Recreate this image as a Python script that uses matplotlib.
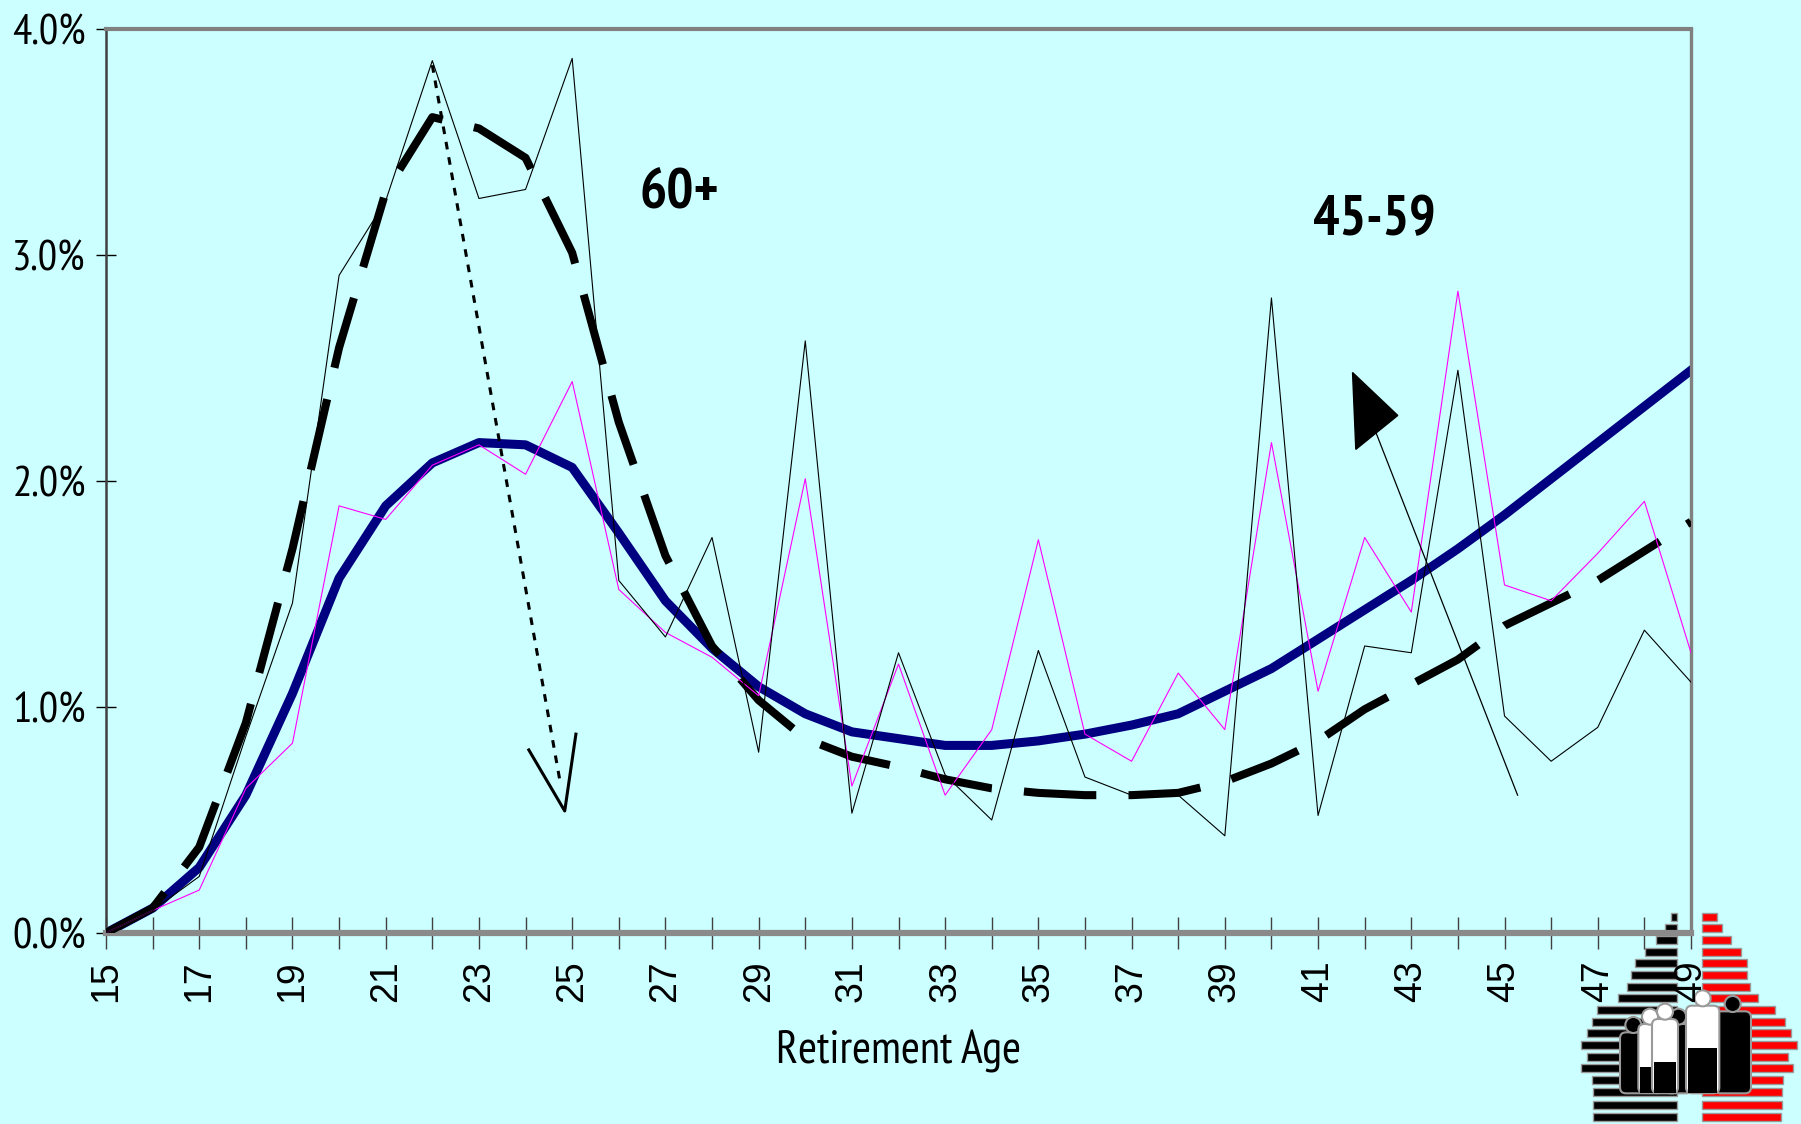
import matplotlib
matplotlib.use("Agg")
import matplotlib.pyplot as plt
import matplotlib.patches as patches
from matplotlib import font_manager
from matplotlib.ticker import FuncFormatter

# retirement age profile, % of retirees at each age
ages = list(range(15, 50))
fit_45_59 = [0.00, 0.11, 0.29, 0.61, 1.06, 1.57, 1.89, 2.08, 2.17, 2.16,
             2.06, 1.77, 1.47, 1.26, 1.09, 0.97, 0.89, 0.86, 0.83, 0.83,
             0.85, 0.88, 0.92, 0.97, 1.07, 1.17, 1.30, 1.43, 1.56, 1.70,
             1.85, 2.01, 2.17, 2.33, 2.49]
fit_60 = [0.00, 0.11, 0.38, 0.93, 1.70, 2.59, 3.28, 3.61, 3.56, 3.43,
          3.01, 2.26, 1.67, 1.27, 1.03, 0.86, 0.78, 0.735, 0.68, 0.64,
          0.62, 0.61, 0.61, 0.62, 0.67, 0.75, 0.85, 0.99, 1.10, 1.21,
          1.36, 1.46, 1.56, 1.69, 1.82]
raw_60 = [0.00, 0.10, 0.25, 0.87, 1.46, 2.91, 3.24, 3.86, 3.25, 3.29,
          3.87, 1.56, 1.31, 1.75, 0.80, 2.62, 0.53, 1.24, 0.70, 0.50,
          1.25, 0.69, 0.61, 0.61, 0.43, 2.81, 0.52, 1.27, 1.24, 2.49,
          0.96, 0.76, 0.91, 1.34, 1.11]
raw_45_59 = [0.00, 0.10, 0.19, 0.64, 0.84, 1.89, 1.83, 2.07, 2.16, 2.03,
             2.44, 1.52, 1.33, 1.22, 1.05, 2.01, 0.65, 1.19, 0.61, 0.90,
             1.74, 0.88, 0.76, 1.15, 0.90, 2.17, 1.07, 1.75, 1.42, 2.84,
             1.54, 1.47, 1.68, 1.91, 1.24]
y_ticks = [0, 1, 2, 3, 4]
x_labels = list(range(15, 50, 2))

# logo: population pyramid rows (logo pixel units)
pyr_y = [200, 233, 270, 305, 340, 375, 410, 445, 480, 515, 550, 585, 620,
         655, 690, 725, 765, 800]
pyr_black = [20, 37, 64, 97, 127, 140, 150, 177, 240, 257, 270, 290, 272,
             290, 257, 252, 254, 252]
pyr_red = [45, 62, 88, 117, 135, 137, 145, 170, 220, 250, 267, 285, 260,
           275, 245, 240, 240, 237]

BG = "#CCFFFF"
REG = ["Liberation Sans", "DejaVu Sans"]


def is_bold(f):
    w = f.weight
    if isinstance(w, str):
        return w in ("bold", "heavy", "black", "extra bold", "semibold", "demibold")
    return w >= 600


# look for a narrow face like the original Arial Narrow, one with a bold cut first
ttf = font_manager.fontManager.ttflist
names = sorted({f.name for f in ttf if "Narrow" in f.name or "Condensed" in f.name})
names.sort(key=lambda n: (not any(is_bold(f) for f in ttf if f.name == n),
                          "Narrow" not in n))
if names:
    NF = dict(family=[names[0], "DejaVu Sans"])
    scale = 1.0
else:
    NF = dict(family=REG)
    scale = 0.8

fig = plt.figure(figsize=(18.01, 11.24), dpi=100, facecolor=BG)

# logo behind the chart
lg = fig.add_axes([1550 / 1801, 0, 251 / 1801, 274 / 1124], zorder=0)
lg.set_xlim(0, 753)
lg.set_ylim(822, 0)
lg.set_axis_off()
lg.barh(pyr_y, pyr_black, left=[382 - b for b in pyr_black], height=24,
        color="black", edgecolor="#9a9a9a", linewidth=1)
lg.barh(pyr_y, pyr_red, left=455, height=24, color="red",
        edgecolor="#9a9a9a", linewidth=1)
people = [(385, 500, 80, "black"), (250, 525, 80, "black"),
          (300, 500, 70, "white"), (345, 485, 78, "white"),
          (548, 462, 110, "black"), (458, 445, 100, "white")]
for px, py, w, c in people:
    lg.add_patch(patches.FancyBboxPatch((px - w / 2, py + 22), w, 730 - py - 22,
                                        boxstyle="round,pad=0,rounding_size=18",
                                        fc=c, ec="#9a9a9a", lw=1.5))
    if c == "white":
        lg.add_patch(patches.Rectangle((px - w / 2 + 6, py + 150), w - 12, 730 - py - 150,
                                       fc="black", ec="none"))
    lg.add_patch(patches.Circle((px, py), 24, fc=c, ec="#9a9a9a", lw=1.5))

ax = fig.add_axes([106 / 1801, 1 - 933 / 1124, 1585 / 1801, 904 / 1124], zorder=1)
ax.patch.set_visible(False)

ax.plot(ages, fit_45_59, color="#000080", lw=6.5, zorder=2)
ax.plot(ages, fit_60, color="black", lw=5.8, dashes=(9, 4), zorder=3)
ax.plot(ages, raw_45_59, color="#FF00FF", lw=0.8, zorder=4)
ax.plot(ages, raw_60, color="black", lw=0.8, zorder=5)

# dotted arrow for 60+
ax.plot([22.0, 24.74], [3.84, 0.67], color="black", lw=2.2, dashes=(2.5, 2.6), zorder=6)
ax.plot([24.07, 24.84, 25.08], [0.81, 0.54, 0.88], color="black", lw=2.2, zorder=6)
# solid arrow for 45-59
ax.plot([45.28, 42.25], [0.61, 2.21], color="black", lw=0.9, zorder=6)
ax.add_patch(patches.Polygon([(41.74, 2.48), (41.81, 2.14), (42.71, 2.29)],
                             closed=True, fc="black", ec="black", zorder=6))

ax.text(27.3, 3.27, "60+", ha="center", va="center", fontsize=40 * scale + 1,
        fontweight="bold", **NF)
ax.text(42.2, 3.15, "45-59", ha="center", va="center", fontsize=40 * scale,
        fontweight="bold", **NF)

ax.set_xlim(15, 49)
ax.set_ylim(0, 4)
ax.set_xticks(ages)
ax.set_xticklabels([str(a) if a in x_labels else "" for a in ages],
                   rotation=90, fontsize=27, family=REG)
ax.set_yticks(y_ticks)
ax.yaxis.set_major_formatter(FuncFormatter(lambda v, p: f"{v:.1f}%"))
for t in ax.get_yticklabels():
    t.set(**NF)
    t.set_fontsize(31 * scale)
ax.tick_params(axis="x", direction="inout", length=23, width=1,
               color="#404040", pad=8)
ax.tick_params(axis="y", direction="inout", length=15, width=1,
               color="black", pad=7)

ax.spines["top"].set_color("#808080")
ax.spines["top"].set_linewidth(3)
ax.spines["right"].set_color("#808080")
ax.spines["right"].set_linewidth(2.4)
ax.spines["left"].set_color("#404040")
ax.spines["left"].set_linewidth(1.8)
ax.spines["bottom"].set_color("#8a8a8a")
ax.spines["bottom"].set_linewidth(4.5)
ax.axhline(0, color="#202020", lw=1.6, zorder=1.5, clip_on=False)

ax.set_xlabel("Retirement Age", fontsize=33 * scale, labelpad=20, **NF)

fig.savefig("out.png", dpi=100, facecolor=BG)
